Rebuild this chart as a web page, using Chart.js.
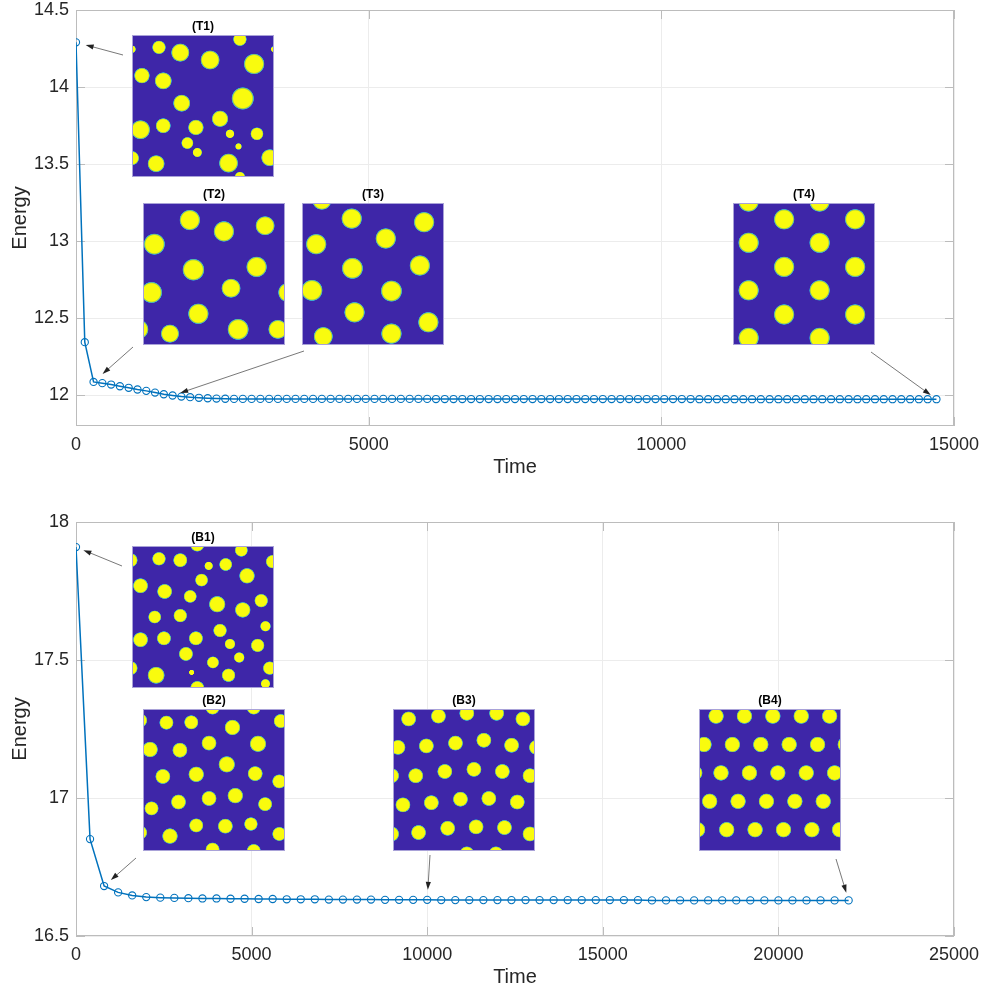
<!DOCTYPE html>
<html>
<head>
<meta charset="utf-8">
<script src="https://cdn.jsdelivr.net/npm/chart.js@4.4.1/dist/chart.umd.min.js"></script>
<style>
  html, body { margin: 0; padding: 0; background: #fff; }
  #wrap { position: relative; width: 988px; height: 995px; }
  .box { position: absolute; left: 0; width: 988px; }
</style>
</head>
<body>
<div id="wrap">
  <div class="box" style="top:0;height:495px"><canvas id="topChart"></canvas></div>
  <div class="box" style="top:495px;height:500px"><canvas id="botChart"></canvas></div>
</div>
<script>
// top panel: energy vs time, step 150
const topTime = [0,150,300,450,600,750,900,1050,1200,1350,1500,1650,1800,1950,2100,2250,2400,2550,2700,2850,
  3000,3150,3300,3450,3600,3750,3900,4050,4200,4350,4500,4650,4800,4950,5100,5250,5400,5550,5700,5850,
  6000,6150,6300,6450,6600,6750,6900,7050,7200,7350,7500,7650,7800,7950,8100,8250,8400,8550,8700,8850,
  9000,9150,9300,9450,9600,9750,9900,10050,10200,10350,10500,10650,10800,10950,11100,11250,11400,11550,11700,11850,
  12000,12150,12300,12450,12600,12750,12900,13050,13200,13350,13500,13650,13800,13950,14100,14250,14400,14550,14700];
const topEnergy = [14.29,12.344,12.086,12.078,12.069,12.058,12.048,12.037,12.028,12.017,
  12.006,11.998,11.991,11.987,11.983,11.980,11.978,11.977,11.976,11.976,
  11.976,11.976,11.976,11.976,11.976,11.976,11.976,11.976,11.976,11.976,
  11.976,11.976,11.976,11.976,11.976,11.976,11.976,11.976,11.976,11.976,
  11.976,11.975,11.975,11.975,11.975,11.975,11.975,11.975,11.975,11.975,
  11.975,11.975,11.975,11.975,11.975,11.975,11.975,11.975,11.975,11.975,
  11.975,11.975,11.975,11.975,11.975,11.975,11.975,11.975,11.975,11.975,
  11.975,11.974,11.974,11.974,11.974,11.974,11.974,11.974,11.974,11.974,
  11.974,11.974,11.974,11.974,11.974,11.974,11.974,11.974,11.974,11.974,
  11.974,11.974,11.974,11.974,11.974,11.974,11.974,11.974,11.974];
const topXTicks = [0,5000,10000,15000];
const topYTicks = [12,12.5,13,13.5,14,14.5];

// bottom panel: energy vs time, step 400
const botTime = [0,400,800,1200,1600,2000,2400,2800,3200,3600,4000,4400,4800,5200,5600,6000,6400,6800,7200,7600,
  8000,8400,8800,9200,9600,10000,10400,10800,11200,11600,12000,12400,12800,13200,13600,14000,14400,14800,15200,15600,
  16000,16400,16800,17200,17600,18000,18400,18800,19200,19600,20000,20400,20800,21200,21600,22000];
const botEnergy = [17.909,16.851,16.681,16.658,16.647,16.641,16.639,16.638,16.637,16.636,
  16.636,16.635,16.635,16.634,16.634,16.633,16.633,16.633,16.632,16.632,
  16.632,16.632,16.631,16.631,16.631,16.631,16.630,16.630,16.630,16.630,
  16.630,16.630,16.630,16.630,16.630,16.630,16.630,16.630,16.630,16.630,
  16.630,16.629,16.629,16.629,16.629,16.629,16.629,16.629,16.629,16.629,
  16.629,16.629,16.629,16.629,16.629,16.629];
const botXTicks = [0,5000,10000,15000,20000,25000];
const botYTicks = [16.5,17,17.5,18];

// snapshot pictures: droplets as [u, v, r] in fractions of the picture size
const snapT1 = [[0.0,0.10,0.02],[0.19,0.087,0.04],[0.34,0.124,0.056],[0.55,0.176,0.059],[0.76,0.03,0.04],
  [0.86,0.204,0.064],[1.0,0.10,0.015],[0.07,0.286,0.047],[0.22,0.323,0.052],[0.78,0.447,0.07],
  [0.35,0.48,0.052],[0.62,0.59,0.05],[0.06,0.667,0.059],[0.22,0.639,0.045],[0.45,0.651,0.047],
  [0.69,0.696,0.024],[0.88,0.696,0.038],[0.39,0.761,0.035],[0.75,0.785,0.016],[0.46,0.827,0.026],
  [0.0,0.867,0.042],[0.17,0.906,0.052],[0.68,0.902,0.059],[0.97,0.864,0.052],[0.76,1.0,0.03]];
const snapT2 = [[0.33,0.12,0.064],[0.57,0.20,0.064],[0.86,0.16,0.059],[0.08,0.29,0.066],[0.355,0.47,0.068],
  [0.80,0.45,0.064],[0.06,0.63,0.066],[0.62,0.60,0.059],[1.02,0.63,0.06],[0.39,0.78,0.064],
  [0.67,0.89,0.066],[0.19,0.92,0.056],[0.95,0.89,0.059],[-0.03,0.89,0.06]];
const snapT3 = [[0.14,-0.02,0.06],[0.35,0.11,0.064],[0.86,0.135,0.064],[0.59,0.25,0.064],[0.10,0.29,0.064],
  [0.355,0.46,0.066],[0.83,0.44,0.064],[0.07,0.615,0.066],[0.63,0.62,0.066],[0.37,0.77,0.064],
  [0.89,0.84,0.064],[0.15,0.94,0.059],[0.63,0.92,0.064]];
const snapT4 = [[0.11,-0.01,0.064],[0.61,-0.01,0.064],[0.36,0.115,0.064],[0.86,0.115,0.064],[0.11,0.28,0.064],
  [0.61,0.28,0.064],[0.36,0.45,0.064],[0.86,0.45,0.064],[0.11,0.615,0.064],[0.61,0.615,0.064],
  [0.36,0.785,0.064],[0.86,0.785,0.064],[0.11,0.95,0.064],[0.61,0.95,0.064]];
const snapB1 = [[-0.01,0.10,0.042],[0.19,0.09,0.04],[0.34,0.10,0.042],[0.46,-0.01,0.042],[0.54,0.14,0.023],
  [0.66,0.13,0.038],[0.77,0.03,0.038],[0.99,0.11,0.04],[0.81,0.21,0.047],[0.49,0.24,0.038],
  [0.06,0.28,0.045],[0.23,0.32,0.045],[0.41,0.355,0.038],[0.60,0.41,0.05],[0.91,0.385,0.04],
  [0.78,0.45,0.047],[0.34,0.49,0.04],[0.16,0.50,0.038],[0.94,0.565,0.03],[0.62,0.595,0.04],
  [0.06,0.66,0.045],[0.225,0.65,0.042],[0.45,0.65,0.042],[0.69,0.69,0.03],[0.885,0.70,0.04],
  [0.38,0.76,0.042],[0.755,0.785,0.03],[0.57,0.82,0.035],[-0.01,0.86,0.042],[0.42,0.89,0.012],
  [0.17,0.91,0.052],[0.68,0.91,0.04],[0.97,0.86,0.04],[0.94,0.97,0.026],[0.46,1.0,0.042]];
const snapB2 = [[-0.02,0.08,0.042],[0.165,0.096,0.042],[0.34,0.094,0.042],[0.49,-0.01,0.042],[0.78,-0.01,0.042],
  [0.63,0.13,0.047],[0.97,0.085,0.042],[0.05,0.285,0.047],[0.26,0.29,0.045],[0.465,0.24,0.045],
  [0.81,0.245,0.05],[0.59,0.39,0.05],[0.14,0.475,0.045],[0.375,0.46,0.047],[0.79,0.455,0.045],
  [0.96,0.51,0.042],[0.06,0.70,0.042],[0.25,0.655,0.045],[0.465,0.63,0.045],[0.65,0.61,0.047],
  [0.86,0.67,0.042],[0.375,0.82,0.042],[0.58,0.825,0.045],[0.76,0.81,0.04],[0.96,0.88,0.042],
  [0.19,0.895,0.047],[-0.02,0.87,0.042],[0.49,0.99,0.042],[0.78,1.0,0.042]];
const snapB3 = [[0.11,0.07,0.045],[0.32,0.05,0.045],[0.52,0.03,0.045],[0.73,0.03,0.045],[0.915,0.07,0.045],
  [0.035,0.27,0.045],[0.235,0.26,0.045],[0.44,0.24,0.045],[0.64,0.22,0.045],[0.835,0.255,0.045],[1.01,0.27,0.045],
  [-0.01,0.47,0.045],[0.16,0.47,0.045],[0.365,0.44,0.045],[0.57,0.425,0.045],[0.77,0.44,0.045],[0.965,0.47,0.045],
  [0.07,0.675,0.045],[0.27,0.66,0.045],[0.475,0.635,0.045],[0.675,0.63,0.045],[0.875,0.655,0.045],
  [-0.01,0.88,0.045],[0.18,0.87,0.045],[0.385,0.84,0.045],[0.585,0.83,0.045],[0.785,0.835,0.045],[0.965,0.88,0.045],
  [0.52,1.02,0.045],[0.725,1.02,0.045]];
const snapB4 = [[0.12,0.05,0.047],[0.32,0.05,0.047],[0.52,0.05,0.047],[0.72,0.05,0.047],[0.92,0.05,0.047],
  [0.035,0.25,0.047],[0.235,0.25,0.047],[0.435,0.25,0.047],[0.635,0.25,0.047],[0.835,0.25,0.047],[1.03,0.25,0.047],
  [-0.03,0.45,0.047],[0.155,0.45,0.047],[0.355,0.45,0.047],[0.555,0.45,0.047],[0.755,0.45,0.047],[0.955,0.45,0.047],
  [0.075,0.65,0.047],[0.275,0.65,0.047],[0.475,0.65,0.047],[0.675,0.65,0.047],[0.875,0.65,0.047],
  [-0.01,0.85,0.047],[0.195,0.85,0.047],[0.395,0.85,0.047],[0.595,0.85,0.047],[0.795,0.85,0.047],[0.99,0.85,0.047]];

const FONT = '"Liberation Sans", Arial, Helvetica, sans-serif';
const TEXT = '#262626';
const LINE = '#0072BD';
const BOX = '#bcbcbc';
const GRID = '#ececec';

function drawSnap(ctx, x, y, s, label, circles) {
  ctx.save();
  ctx.fillStyle = '#3e26a8';
  ctx.fillRect(x, y, s, s);
  ctx.beginPath();
  ctx.rect(x, y, s, s);
  ctx.clip();
  circles.forEach(c => {
    const cx = x + c[0] * s, cy = y + c[1] * s, r = c[2] * s * 1.05 + 1;
    const g = ctx.createRadialGradient(cx, cy, 0, cx, cy, r);
    g.addColorStop(0, '#f9fb0e');
    g.addColorStop(0.8, '#f9fb0e');
    g.addColorStop(0.88, '#a8d040');
    g.addColorStop(0.95, '#33a8d8');
    g.addColorStop(1, 'rgba(62,38,168,1)');
    ctx.fillStyle = g;
    ctx.beginPath();
    ctx.arc(cx, cy, r, 0, Math.PI * 2);
    ctx.fill();
  });
  ctx.restore();
  ctx.save();
  ctx.strokeStyle = '#a9a2d8';
  ctx.lineWidth = 1;
  ctx.strokeRect(x + 0.5, y + 0.5, s - 1, s - 1);
  ctx.fillStyle = '#000';
  ctx.font = 'bold 12px ' + FONT;
  ctx.textAlign = 'center';
  ctx.textBaseline = 'bottom';
  ctx.fillText(label, x + s / 2, y - 2);
  ctx.restore();
}

function drawArrow(ctx, x0, y0, x1, y1) {
  const a = Math.atan2(y1 - y0, x1 - x0);
  ctx.save();
  ctx.strokeStyle = '#555';
  ctx.fillStyle = '#222';
  ctx.lineWidth = 0.8;
  ctx.beginPath();
  ctx.moveTo(x0, y0);
  ctx.lineTo(x1 - 6 * Math.cos(a), y1 - 6 * Math.sin(a));
  ctx.stroke();
  ctx.beginPath();
  ctx.moveTo(x1, y1);
  ctx.lineTo(x1 - 8 * Math.cos(a) + 2.6 * Math.sin(a), y1 - 8 * Math.sin(a) - 2.6 * Math.cos(a));
  ctx.lineTo(x1 - 8 * Math.cos(a) - 2.6 * Math.sin(a), y1 - 8 * Math.sin(a) + 2.6 * Math.cos(a));
  ctx.closePath();
  ctx.fill();
  ctx.restore();
}

const framePlugin = {
  id: 'frame',
  beforeDatasetsDraw(chart) {
    const {ctx, chartArea: a, scales} = chart;
    ctx.save();
    ctx.strokeStyle = BOX;
    ctx.lineWidth = 1;
    ctx.strokeRect(a.left + 0.5, a.top + 0.5, a.right - a.left - 1, a.bottom - a.top - 1);
    ctx.beginPath();
    scales.x.ticks.forEach(t => {
      const px = Math.round(scales.x.getPixelForValue(t.value)) + 0.5;
      ctx.moveTo(px, a.bottom); ctx.lineTo(px, a.bottom - 9);
      ctx.moveTo(px, a.top); ctx.lineTo(px, a.top + 9);
    });
    scales.y.ticks.forEach(t => {
      const py = Math.round(scales.y.getPixelForValue(t.value)) + 0.5;
      ctx.moveTo(a.left, py); ctx.lineTo(a.left + 9, py);
      ctx.moveTo(a.right, py); ctx.lineTo(a.right - 9, py);
    });
    ctx.stroke();
    ctx.restore();
  },
  afterDatasetsDraw(chart, args, opts) {
    const ctx = chart.ctx;
    const off = opts.offsetTop;
    const pts = chart.getDatasetMeta(0).data;
    opts.snaps.forEach(s => drawSnap(ctx, s.x, s.y - off, 142, s.label, s.circles));
    opts.arrows.forEach(ar => {
      const p = pts[ar.index];
      const tx = ar.from[0], ty = ar.from[1] - off;
      const dx = tx - p.x, dy = ty - p.y, d = Math.hypot(dx, dy);
      drawArrow(ctx, tx, ty, p.x + dx / d * ar.gap, p.y + dy / d * ar.gap);
    });
  }
};

function makeChart(id, times, energy, xMax, yMin, yMax, xTicks, yTicks, frame, pad, axisH, titlePad) {
  const points = times.map((t, i) => ({x: t, y: energy[i]}));
  return new Chart(document.getElementById(id), {
    type: 'line',
    data: {
      datasets: [{
        data: points,
        borderColor: LINE,
        borderWidth: 1.5,
        pointRadius: 3.6,
        pointBorderWidth: 1.1,
        pointBorderColor: LINE,
        pointBackgroundColor: 'rgba(0,0,0,0)',
        pointStyle: 'circle',
        tension: 0
      }]
    },
    options: {
      responsive: true,
      maintainAspectRatio: false,
      animation: false,
      events: [],
      layout: { padding: { top: pad, right: 34, left: 0, bottom: 0 } },
      plugins: {
        legend: { display: false },
        tooltip: { enabled: false },
        frame: frame
      },
      scales: {
        x: {
          type: 'linear',
          min: 0,
          max: xMax,
          afterBuildTicks: s => { s.ticks = xTicks.map(v => ({value: v})); },
          afterFit: s => { s.height = axisH; s.paddingLeft = 0; s.paddingRight = 0; },
          grid: { color: GRID, drawTicks: false },
          border: { display: false },
          ticks: { padding: 8, color: TEXT, font: { family: FONT, size: 18 }, maxRotation: 0, callback: v => String(v) },
          title: { display: true, text: 'Time', color: TEXT, font: { family: FONT, size: 20 }, padding: { top: 0, bottom: titlePad } }
        },
        y: {
          min: yMin,
          max: yMax,
          afterBuildTicks: s => { s.ticks = yTicks.map(v => ({value: v})); },
          afterFit: s => { s.width = 76; s.paddingTop = 0; s.paddingBottom = 0; },
          grid: { color: GRID, drawTicks: false },
          border: { display: false },
          ticks: { padding: 7, color: TEXT, font: { family: FONT, size: 18 }, callback: v => String(v) },
          title: { display: true, text: 'Energy', color: TEXT, font: { family: FONT, size: 20 }, padding: { top: 8, bottom: 8 } }
        }
      }
    },
    plugins: [framePlugin]
  });
}

makeChart('topChart', topTime, topEnergy, 15000, 11.8, 14.5, topXTicks, topYTicks, {
  offsetTop: 0,
  snaps: [
    {label: '(T1)', x: 132, y: 35, circles: snapT1},
    {label: '(T2)', x: 143, y: 203, circles: snapT2},
    {label: '(T3)', x: 302, y: 203, circles: snapT3},
    {label: '(T4)', x: 733, y: 203, circles: snapT4}
  ],
  arrows: [
    {from: [123, 55], index: 0, gap: 10},
    {from: [133, 347], index: 2, gap: 12},
    {from: [304, 351], index: 11, gap: 8},
    {from: [871, 352], index: 98, gap: 7}
  ]
}, 10, 69, 16);

makeChart('botChart', botTime, botEnergy, 25000, 16.5, 18, botXTicks, botYTicks, {
  offsetTop: 495,
  snaps: [
    {label: '(B1)', x: 132, y: 546, circles: snapB1},
    {label: '(B2)', x: 143, y: 709, circles: snapB2},
    {label: '(B3)', x: 393, y: 709, circles: snapB3},
    {label: '(B4)', x: 699, y: 709, circles: snapB4}
  ],
  arrows: [
    {from: [122, 566], index: 0, gap: 8},
    {from: [136, 858], index: 2, gap: 9},
    {from: [430, 855], index: 25, gap: 10},
    {from: [836, 859], index: 55, gap: 8}
  ]
}, 27, 59, 6);
</script>
</body>
</html>
